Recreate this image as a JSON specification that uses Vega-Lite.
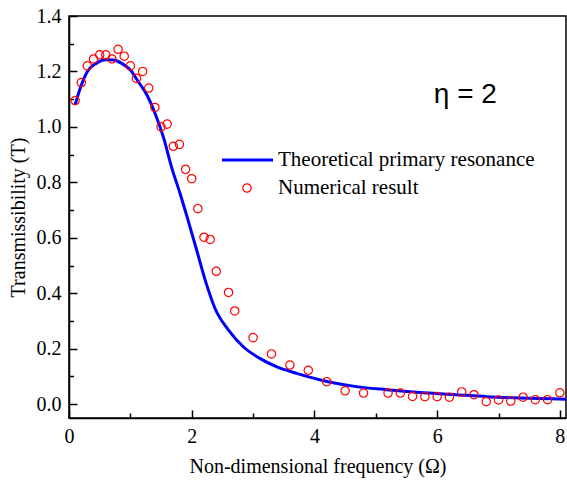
{
  "$schema": "https://vega.github.io/schema/vega-lite/v6.json",
  "autosize": {"type": "none"},
  "width": 497,
  "height": 402,
  "padding": {"left": 69, "top": 16, "right": 1, "bottom": 69},
  "background": "white",
  "config": {
    "view": {"stroke": "#000", "strokeWidth": 1.5},
    "axis": {
      "grid": false,
      "domainColor": "#000",
      "domainWidth": 1.5,
      "tickColor": "#000",
      "tickWidth": 1.5,
      "labelFont": "Liberation Serif",
      "labelFontSize": 20,
      "labelColor": "#000",
      "titleFont": "Liberation Serif",
      "titleFontSize": 20,
      "titleFontWeight": "normal",
      "titleColor": "#000"
    },
    "legend": {
      "labelFont": "Liberation Serif",
      "labelFontSize": 21,
      "labelColor": "#000",
      "labelLimit": 400
    }
  },
  "datasets": {
    "theory": [
      {"omega": 0.1, "T": 1.08},
      {"omega": 0.2, "T": 1.15},
      {"omega": 0.3, "T": 1.2},
      {"omega": 0.45, "T": 1.23},
      {"omega": 0.6, "T": 1.242},
      {"omega": 0.72, "T": 1.241},
      {"omega": 0.86, "T": 1.229},
      {"omega": 1.0, "T": 1.205},
      {"omega": 1.13, "T": 1.163},
      {"omega": 1.27, "T": 1.115},
      {"omega": 1.4, "T": 1.05},
      {"omega": 1.54, "T": 0.962},
      {"omega": 1.67, "T": 0.856},
      {"omega": 1.81, "T": 0.76},
      {"omega": 1.94, "T": 0.664},
      {"omega": 2.08, "T": 0.556},
      {"omega": 2.23, "T": 0.44},
      {"omega": 2.38, "T": 0.345},
      {"omega": 2.6, "T": 0.267},
      {"omega": 2.84, "T": 0.207},
      {"omega": 3.11, "T": 0.165},
      {"omega": 3.38, "T": 0.135},
      {"omega": 3.71, "T": 0.111},
      {"omega": 4.1, "T": 0.087},
      {"omega": 4.63, "T": 0.065},
      {"omega": 5.18, "T": 0.052},
      {"omega": 5.72, "T": 0.042},
      {"omega": 6.26, "T": 0.035},
      {"omega": 6.81, "T": 0.027},
      {"omega": 7.35, "T": 0.022},
      {"omega": 8.1, "T": 0.018}
    ],
    "numerical": [
      {"omega": 0.1, "T": 1.095},
      {"omega": 0.2, "T": 1.16},
      {"omega": 0.3, "T": 1.22},
      {"omega": 0.4, "T": 1.245},
      {"omega": 0.5, "T": 1.26},
      {"omega": 0.6, "T": 1.26},
      {"omega": 0.7, "T": 1.245},
      {"omega": 0.8, "T": 1.28},
      {"omega": 0.9, "T": 1.255},
      {"omega": 1.0, "T": 1.22},
      {"omega": 1.1, "T": 1.175},
      {"omega": 1.2, "T": 1.2},
      {"omega": 1.3, "T": 1.14},
      {"omega": 1.4, "T": 1.07},
      {"omega": 1.5, "T": 1.0},
      {"omega": 1.6, "T": 1.01},
      {"omega": 1.7, "T": 0.93},
      {"omega": 1.8, "T": 0.937},
      {"omega": 1.9, "T": 0.847},
      {"omega": 2.0, "T": 0.813},
      {"omega": 2.1, "T": 0.705},
      {"omega": 2.2, "T": 0.602},
      {"omega": 2.3, "T": 0.594},
      {"omega": 2.4, "T": 0.479},
      {"omega": 2.6, "T": 0.403},
      {"omega": 2.7, "T": 0.336},
      {"omega": 3.0, "T": 0.24},
      {"omega": 3.3, "T": 0.181},
      {"omega": 3.6, "T": 0.141},
      {"omega": 3.9, "T": 0.122},
      {"omega": 4.2, "T": 0.081},
      {"omega": 4.5, "T": 0.048},
      {"omega": 4.8, "T": 0.04},
      {"omega": 5.2, "T": 0.04},
      {"omega": 5.4, "T": 0.04},
      {"omega": 5.6, "T": 0.028},
      {"omega": 5.8, "T": 0.027},
      {"omega": 6.0, "T": 0.027},
      {"omega": 6.2, "T": 0.025},
      {"omega": 6.4, "T": 0.044},
      {"omega": 6.6, "T": 0.034},
      {"omega": 6.8, "T": 0.009},
      {"omega": 7.0, "T": 0.015},
      {"omega": 7.2, "T": 0.011},
      {"omega": 7.4, "T": 0.025},
      {"omega": 7.6, "T": 0.016},
      {"omega": 7.8, "T": 0.016},
      {"omega": 8.0, "T": 0.041}
    ]
  },
  "resolve": {"axis": {"x": "independent", "y": "independent"}},
  "layer": [
    {
      "data": {"name": "theory"},
      "mark": {"type": "line", "strokeWidth": 3, "interpolate": "monotone"},
      "encoding": {
        "x": {
          "field": "omega",
          "type": "quantitative",
          "scale": {"domain": [0, 8.1], "nice": false, "zero": false},
          "axis": {
            "orient": "bottom",
            "title": "Non-dimensional frequency (Ω)",
            "values": [0, 2, 4, 6, 8],
            "format": "d",
            "tickSize": -8,
            "labelPadding": 16,
            "labelFlush": false,
            "labelOverlap": false,
            "titlePadding": 10
          }
        },
        "y": {
          "field": "T",
          "type": "quantitative",
          "scale": {"domain": [-0.05, 1.4], "nice": false, "zero": false},
          "axis": {
            "orient": "left",
            "title": "Transmissibility (T)",
            "values": [0, 0.2, 0.4, 0.6, 0.8, 1.0, 1.2, 1.4],
            "format": ".1f",
            "tickSize": -8,
            "labelPadding": 16,
            "labelFlush": false,
            "labelOverlap": false,
            "titlePadding": 8
          }
        },
        "color": {
          "datum": "Theoretical primary resonance",
          "scale": {"range": ["#0000ff"]},
          "legend": {
            "orient": "none",
            "legendX": 151.5,
            "legendY": 117,
            "title": null,
            "padding": 0,
            "symbolType": "stroke",
            "symbolSize": 2601,
            "symbolStrokeWidth": 3,
            "labelOffset": 3.5
          }
        }
      }
    },
    {
      "data": {"name": "numerical"},
      "mark": {"type": "point", "filled": false, "size": 70, "strokeWidth": 1.2, "opacity": 1},
      "encoding": {
        "x": {
          "field": "omega",
          "type": "quantitative",
          "axis": {
            "orient": "bottom",
            "title": null,
            "values": [1, 3, 5, 7],
            "labels": false,
            "domain": false,
            "tickSize": -5
          }
        },
        "y": {
          "field": "T",
          "type": "quantitative",
          "axis": {
            "orient": "left",
            "title": null,
            "values": [0.1, 0.3, 0.5, 0.7, 0.9, 1.1, 1.3],
            "labels": false,
            "domain": false,
            "tickSize": -4.5
          }
        },
        "stroke": {
          "datum": "Numerical result",
          "scale": {"range": ["#ff0000"]},
          "legend": {
            "orient": "none",
            "legendX": 167.5,
            "legendY": 161.5,
            "title": null,
            "padding": 0,
            "symbolType": "circle",
            "symbolSize": 70,
            "symbolStrokeWidth": 1.2,
            "labelOffset": 20.5
          }
        }
      }
    },
    {
      "data": {"values": [{}]},
      "mark": {"type": "text", "font": "Liberation Sans", "fontSize": 28, "color": "#000"},
      "encoding": {
        "x": {"datum": 6.46, "axis": null},
        "y": {"datum": 1.115, "axis": null},
        "text": {"value": "η = 2"}
      }
    }
  ]
}
